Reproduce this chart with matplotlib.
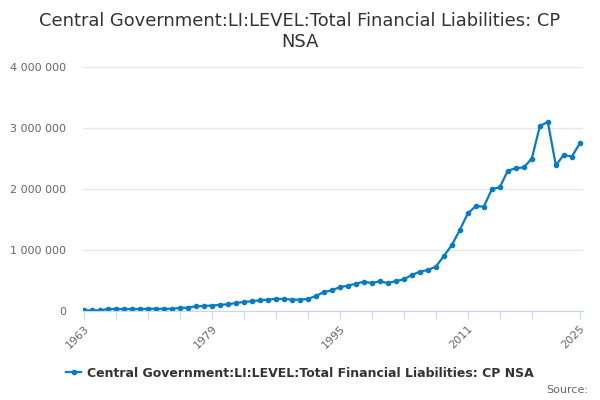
import matplotlib
matplotlib.use('Agg')
import matplotlib.pyplot as plt
from matplotlib.ticker import FuncFormatter, FixedLocator

years = list(range(1963, 2026))
# total financial liabilities
values = [
    10000, 10000, 10000, 33000, 33000, 33000, 33000, 33000, 36000, 36000,
    36000, 36000, 50000, 55000, 77000, 82000, 90000, 100000, 110000, 130000,
    148000, 160000, 175000, 186000, 200000, 197000, 186000, 186000, 197000, 245000,
    310000, 340000, 390000, 415000, 448000, 480000, 459000, 486000, 459000, 490000,
    519000, 590000, 645000, 672000, 727000, 900000, 1082000, 1328000, 1600000, 1720000,
    1710000, 1995000, 2030000, 2300000, 2340000, 2355000, 2500000, 3030000, 3100000, 2390000,
    2560000, 2530000, 2750000,
]
series_name = 'Central Government:LI:LEVEL:Total Financial Liabilities: CP NSA'
title = 'Central Government:LI:LEVEL:Total Financial Liabilities: CP\nNSA'
x_labels = [1963, 1979, 1995, 2011, 2025]
y_ticks = [0, 1000000, 2000000, 3000000, 4000000]

plt.rcParams['font.family'] = 'DejaVu Sans'

fig = plt.figure(figsize=(6, 4), dpi=100)
ax = fig.add_axes([0.1383, 0.2225, 0.8334, 0.61])

ax.plot(years, values, color='#0a7bc2', lw=1.6, marker='o', ms=3,
        label=series_name)

ax.set_xlim(1962.9, 2025.4)
ax.set_ylim(0, 4000000)

x_ticks = list(range(1963, 2023, 4)) + [2025]
ax.xaxis.set_major_locator(FixedLocator(x_ticks))
ax.set_xticklabels([str(t) if t in x_labels else '' for t in x_ticks],
                   rotation=45, ha='right', rotation_mode='anchor')
ax.set_yticks(y_ticks)
ax.yaxis.set_major_formatter(FuncFormatter(lambda v, p: f'{int(v):,}'.replace(',', ' ')))

ax.grid(axis='y', color='#e6e6e6', lw=1)
ax.set_axisbelow(True)
for s in ['top', 'right', 'left']:
    ax.spines[s].set_visible(False)
ax.spines['bottom'].set_color('#ccd6eb')
ax.tick_params(axis='x', colors='#ccd6eb', length=6, labelcolor='#666666',
               labelsize=8, pad=3)
ax.tick_params(axis='y', length=0, labelcolor='#666666', labelsize=8, pad=12)

fig.suptitle(title, x=0.5, y=0.97, fontsize=12.9, color='#333333', linespacing=1.2)

leg = fig.legend(loc='center', bbox_to_anchor=(0.5, 0.067), frameon=False,
                 handlelength=1.2, handletextpad=0.5,
                 prop={'weight': 'bold', 'size': 9})
for t in leg.get_texts():
    t.set_color('#333333')

fig.text(0.98, 0.025, 'Source:', ha='right', va='center', fontsize=8, color='#666666')

fig.savefig('out.png', dpi=100)
